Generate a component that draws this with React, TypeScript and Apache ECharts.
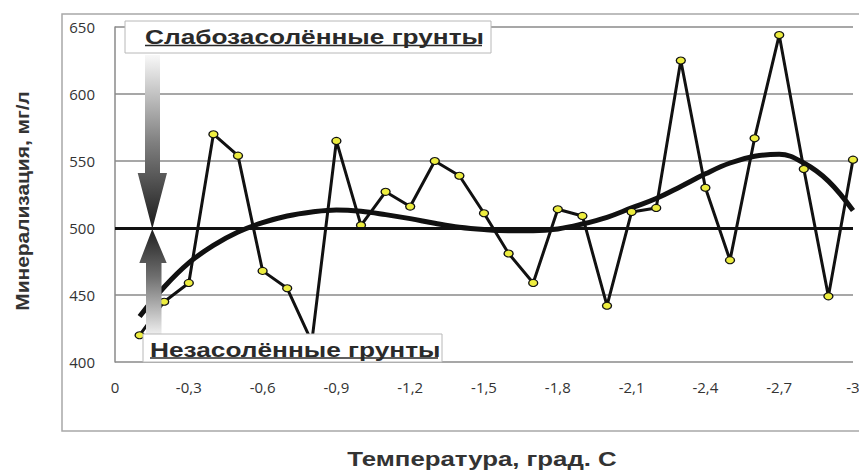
import React, { useEffect, useRef } from "react";
import * as echarts from "echarts";

// Температура, град. С
const temps = [
  -0.1, -0.2, -0.3, -0.4, -0.5, -0.6, -0.7, -0.8, -0.9, -1.0,
  -1.1, -1.2, -1.3, -1.4, -1.5, -1.6, -1.7, -1.8, -1.9, -2.0,
  -2.1, -2.2, -2.3, -2.4, -2.5, -2.6, -2.7, -2.8, -2.9, -3.0,
];
// Минерализация, мг/л
const mineral = [
  420, 445, 459, 570, 554, 468, 455, 415, 565, 502,
  527, 516, 550, 539, 511, 481, 459, 514, 509, 442,
  512, 515, 625, 530, 476, 567, 644, 544, 449, 551,
];
// Полиномиальный тренд
const trend = [
  434, 456, 474, 487, 497, 504, 509, 512, 513.5, 512.5,
  510, 507, 503.5, 500.5, 498.8, 498, 498, 499.3, 503, 508,
  515, 522, 531, 540.4, 548.5, 553.5, 555, 548.5, 535, 513,
];
const thresholdValue = 500;
const yTicks = { min: 400, max: 650, step: 50 };
const xTicks = { min: -3, max: 0, step: 0.3 };
const labelTop = "Слабозасолённые грунты";
const labelBottom = "Незасолённые грунты";
const yTitle = "Минерализация, мг/л";
const xTitle = "Температура, град. С";

export default function App() {
  const ref = useRef<HTMLDivElement>(null);
  useEffect(() => {
    if (!ref.current) return;
    const chart = echarts.init(ref.current, null, { renderer: "svg" });
    const ink = "#111";
    const boxText = "#2a2a2a";
    const titleFont = '"Liberation Sans", Arial, sans-serif';
    chart.setOption({
      animation: false,
      backgroundColor: "#fff",
      grid: { left: 115, right: 6, top: 27, bottom: 108, outerBoundsMode: "none" },
      xAxis: {
        type: "value",
        min: xTicks.min,
        max: xTicks.max,
        interval: xTicks.step,
        inverse: true,
        axisLine: { show: false },
        axisTick: { show: false },
        splitLine: { show: false },
        axisLabel: {
          margin: 17,
          color: "#333",
          fontFamily: '"Open Sans", sans-serif',
          fontSize: 15,
          formatter: (v: number) => {
            const r = Math.round(v * 10) / 10;
            return r === 0 ? "0" : String(r).replace(".", ",");
          },
        },
      },
      yAxis: {
        type: "value",
        min: yTicks.min,
        max: yTicks.max,
        interval: yTicks.step,
        axisLine: { show: true, lineStyle: { color: "#8a8a8a", width: 1.5 } },
        axisTick: { show: false },
        splitLine: { show: true, lineStyle: { color: "#8a8a8a", width: 1.5 } },
        axisLabel: {
          margin: 20,
          color: "#333",
          fontFamily: '"Open Sans", sans-serif',
          fontSize: 15,
        },
      },
      series: [
        {
          type: "line",
          data: temps.map((t, i) => [t, trend[i]]),
          smooth: 0.4,
          symbol: "none",
          lineStyle: { color: ink, width: 5 },
          z: 2,
          markLine: {
            silent: true,
            symbol: "none",
            label: { show: false },
            lineStyle: { color: ink, width: 3, type: "solid" },
            data: [{ yAxis: thresholdValue }],
          },
        },
        {
          type: "line",
          data: temps.map((t, i) => [t, mineral[i]]),
          symbol: "circle",
          symbolSize: [9, 7],
          showSymbol: true,
          itemStyle: { color: "#eded3f", borderColor: ink, borderWidth: 1.2 },
          lineStyle: { color: ink, width: 3 },
          z: 3,
        },
      ],
      graphic: [
        {
          type: "rect",
          silent: true,
          z: 0,
          shape: { x: 62, y: 14, width: 830, height: 417 },
          style: { fill: "none", stroke: "#a8a8a8", lineWidth: 1.5 },
        },
        {
          type: "polygon",
          z: 50,
          shape: {
            points: [
              [145, 55], [160, 55], [160, 173], [167, 173],
              [152.3, 229], [137.7, 173], [145, 173],
            ],
          },
          style: {
            fill: new echarts.graphic.LinearGradient(0, 0, 0, 1, [
              { offset: 0, color: "#f8f8f8" },
              { offset: 0.5, color: "#808080" },
              { offset: 1, color: "#1a1a1a" },
            ]),
          },
        },
        {
          type: "polygon",
          z: 50,
          shape: {
            points: [
              [152.3, 229], [166.7, 263], [161.5, 263], [161.5, 336],
              [146, 336], [146, 263], [139.3, 263],
            ],
          },
          style: {
            fill: new echarts.graphic.LinearGradient(0, 0, 0, 1, [
              { offset: 0, color: "#1f1f1f" },
              { offset: 0.45, color: "#707070" },
              { offset: 1, color: "#f2f2f2" },
            ]),
          },
        },
        {
          type: "rect",
          z: 60,
          shape: { x: 125, y: 21, width: 366, height: 32 },
          style: { fill: "#fff", stroke: "#b8b8b8", lineWidth: 1 },
        },
        {
          type: "text",
          z: 61,
          x: 145,
          y: 36.5,
          scaleX: 1.25,
          style: {
            text: labelTop,
            fontFamily: titleFont,
            fontWeight: "bold",
            fontSize: 21,
            fill: boxText,
            textAlign: "left",
            textVerticalAlign: "middle",
          },
        },
        {
          type: "line",
          z: 61,
          shape: { x1: 145, y1: 45.5, x2: 482, y2: 45.5 },
          style: { stroke: boxText, lineWidth: 1.5 },
        },
        {
          type: "rect",
          z: 60,
          shape: { x: 143, y: 334, width: 299, height: 28 },
          style: { fill: "#fff", stroke: "#b8b8b8", lineWidth: 1 },
        },
        {
          type: "text",
          z: 61,
          x: 150,
          y: 349,
          scaleX: 1.25,
          style: {
            text: labelBottom,
            fontFamily: titleFont,
            fontWeight: "bold",
            fontSize: 21,
            fill: boxText,
            textAlign: "left",
            textVerticalAlign: "middle",
          },
        },
        {
          type: "line",
          z: 61,
          shape: { x1: 150, y1: 358, x2: 438, y2: 358 },
          style: { stroke: boxText, lineWidth: 1.5 },
        },
        {
          type: "text",
          z: 61,
          x: 22,
          y: 201,
          rotation: Math.PI / 2,
          scaleX: 1.1,
          style: {
            text: yTitle,
            fontFamily: titleFont,
            fontWeight: "bold",
            fontSize: 19,
            fill: "#333",
            textAlign: "center",
            textVerticalAlign: "middle",
          },
        },
        {
          type: "text",
          z: 61,
          x: 482,
          y: 459,
          scaleX: 1.29,
          style: {
            text: xTitle,
            fontFamily: titleFont,
            fontWeight: "bold",
            fontSize: 20,
            fill: "#333",
            textAlign: "center",
            textVerticalAlign: "middle",
          },
        },
      ],
    });
    return () => chart.dispose();
  }, []);
  return (
    <div
      ref={ref}
      style={{ position: "fixed", left: 0, top: 0, width: 859, height: 470 }}
    />
  );
}
